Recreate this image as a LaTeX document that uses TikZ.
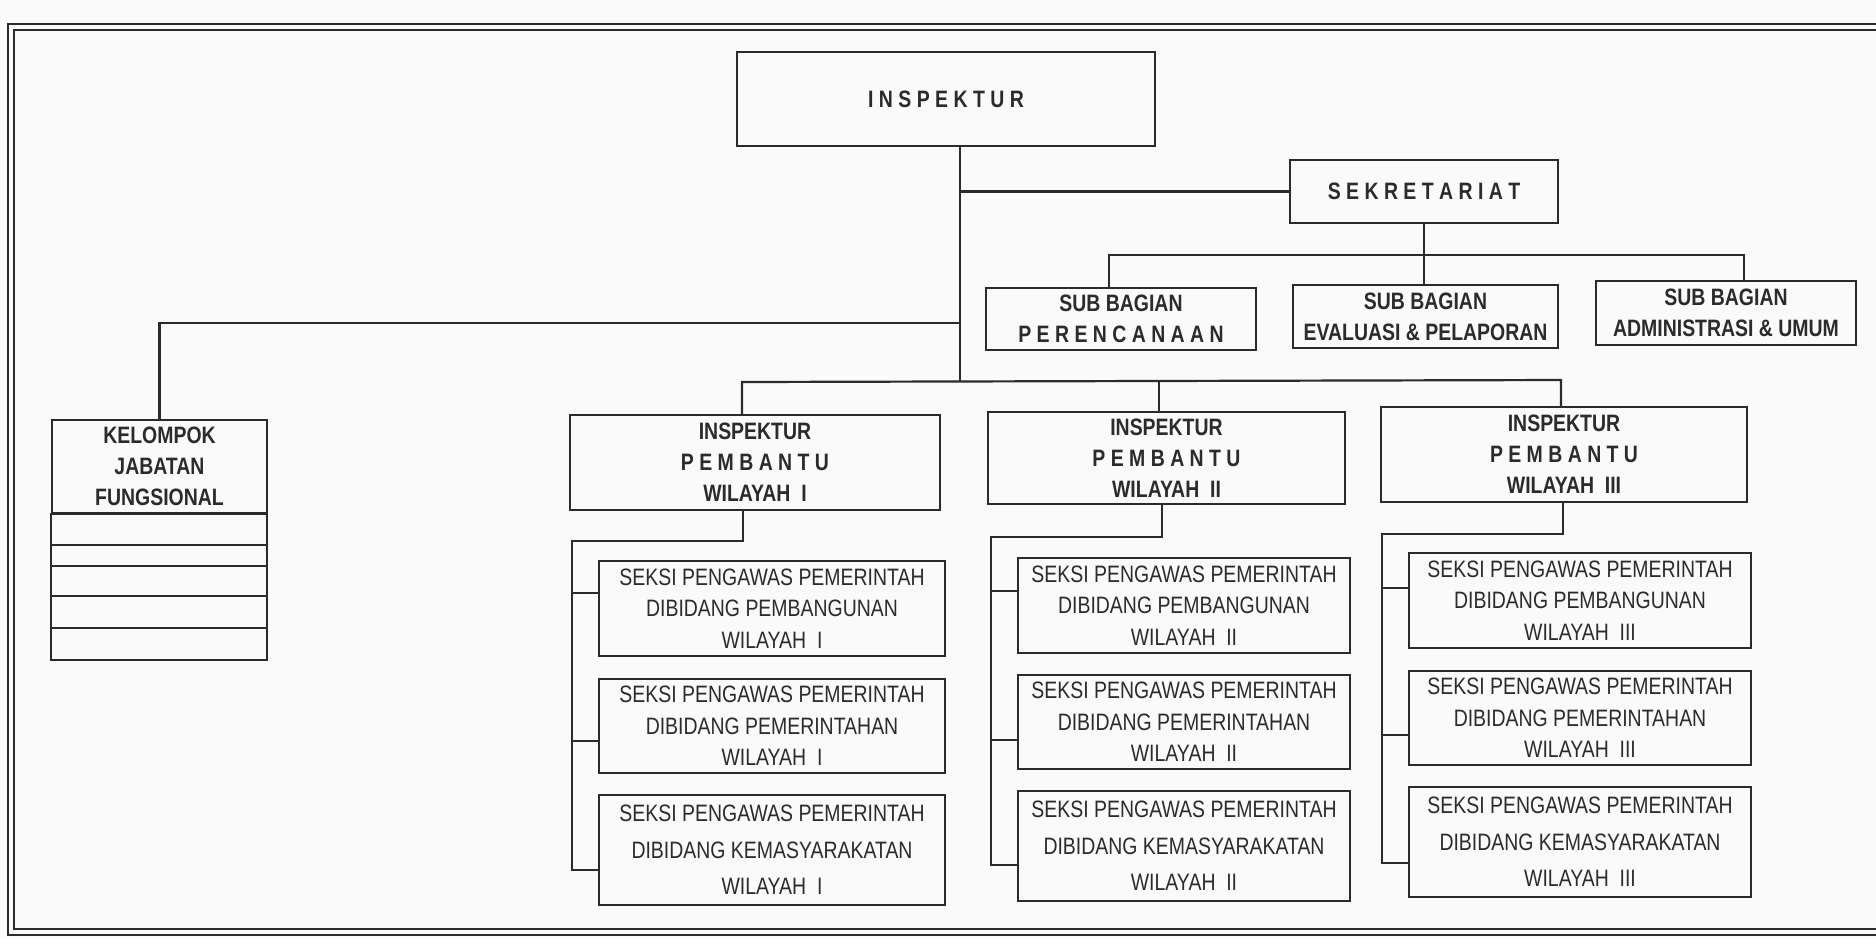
\documentclass[tikz,border=0pt]{standalone}
\usepackage{fontspec}
\setmainfont{Liberation Sans}[FakeStretch=0.82]
\definecolor{tinta}{HTML}{2B2B2B}
\definecolor{kertas}{HTML}{FAFAFA}
\tikzset{
  kotak/.style={draw=tinta, line width=1.25pt, inner sep=0pt, align=center, text=tinta},
  tebal/.style={kotak, font=\bfseries\fontsize{13.5}{17.6}\selectfont},
  tipis/.style={kotak, font=\fontsize{13.5}{17.9}\selectfont},
  renggang/.style={kotak, font=\fontsize{13.5}{20.8}\selectfont},
  garis/.style={draw=tinta, line width=1.25pt}
}

\begin{document}
\begin{tikzpicture}[x=0.02cm, y=-0.02cm]
    \useasboundingbox (0,0) rectangle (1876,938);
    \fill [kertas] (0,0) rectangle (1876,938);

    % bingkai ganda
    \draw [tinta, line width=1.5pt] (8,24) rectangle (1900,935);
    \draw [tinta, line width=1pt] (14,30) rectangle (1900,929);

    \node [tebal, minimum width=8.36cm, minimum height=1.88cm] (insp) at (946,99) {I N S P E K T U R};
    \node [tebal, minimum width=5.36cm, minimum height=1.26cm] (sekr) at (1424,191.5) {S E K R E T A R I A T};

    \node [tebal, minimum width=5.40cm, minimum height=1.24cm] (sbren) at (1121,319) {SUB BAGIAN\\P E R E N C A N A A N};
    \node [tebal, minimum width=5.30cm, minimum height=1.26cm] (sbeval) at (1425.5,316.5) {SUB BAGIAN\\EVALUASI \& PELAPORAN};
    \node [tebal, minimum width=5.20cm, minimum height=1.28cm] (sbadm) at (1726,313) {SUB BAGIAN\\ADMINISTRASI \& UMUM};

    \node [tebal, minimum width=4.30cm, minimum height=1.86cm] (kjf) at (159.5,466.5) {KELOMPOK\\JABATAN\\FUNGSIONAL};
    \draw [garis] (kjf.south west) rectangle (267,660);
    \foreach \y in {545,566,596,628}
      \draw [garis] (52,\y) -- (267,\y);

    \node [tebal, minimum width=7.40cm, minimum height=1.90cm] (ipw1) at (755,462.5) {INSPEKTUR\\P E M B A N T U\\WILAYAH~~I};
    \node [tebal, minimum width=7.14cm, minimum height=1.84cm] (ipw2) at (1166.5,458) {INSPEKTUR\\P E M B A N T U\\WILAYAH~~II};
    \node [tebal, minimum width=7.32cm, minimum height=1.90cm] (ipw3) at (1564,454.5) {INSPEKTUR\\P E M B A N T U\\WILAYAH~~III};

    % seksi tiap wilayah
    \foreach \k/\x/\w/\ya/\yb/\yc/\r in {1/772/6.92/608.5/726/850/I, 2/1184/6.64/605.5/722/846/II, 3/1580/6.84/600.5/718/842/III} {
      \node [tipis, minimum width=\w cm, minimum height=1.90cm] (sk\k1) at (\x,\ya) {SEKSI PENGAWAS PEMERINTAH\\DIBIDANG PEMBANGUNAN\\WILAYAH~~\r};
      \node [tipis, minimum width=\w cm, minimum height=1.88cm] (sk\k2) at (\x,\yb) {SEKSI PENGAWAS PEMERINTAH\\DIBIDANG PEMERINTAHAN\\WILAYAH~~\r};
      \node [renggang, minimum width=\w cm, minimum height=2.20cm] (sk\k3) at (\x,\yc) {SEKSI PENGAWAS PEMERINTAH\\DIBIDANG KEMASYARAKATAN\\WILAYAH~~\r};
    }

    % garis komando
    \coordinate (spine) at (960,382);
    \draw [garis] (insp.south -| spine) -- (spine);
    \draw [garis] (sekr.west) -- (sekr.west -| spine);
    \draw [garis] (kjf.north) |- (spine |- 0,323);

    \coordinate (barL) at (742,382);
    \coordinate (barR) at (1561,380);
    \draw [garis] (ipw1.north -| barL) -- (barL) -- (barR) -- (ipw3.north -| barR);
    \draw [garis] (ipw2.north -| 1159,0) -- (1159,381);

    \coordinate (sbL) at (1109,255);
    \coordinate (sbR) at (1744,255);
    \draw [garis] (sbren.north -| sbL) -- (sbL) -- (sbR) -- (sbadm.north -| sbR);
    \draw [garis] (sekr.south) -- (sekr.south |- sbeval.north);

    \foreach \k/\sx/\rx/\ey/\ya/\yb/\yc in {1/743/572/541/593/741/870, 2/1162/991/537/591/740/865, 3/1563/1382/534/588/735/863} {
      \draw [garis] (ipw\k.south -| \sx,0) |- (\rx,\ey) |- (sk\k3.west |- 0,\yc);
      \draw [garis] (\rx,\ya) -- (sk\k1.west |- 0,\ya);
      \draw [garis] (\rx,\yb) -- (sk\k2.west |- 0,\yb);
    }
  \end{tikzpicture}
\end{document}
